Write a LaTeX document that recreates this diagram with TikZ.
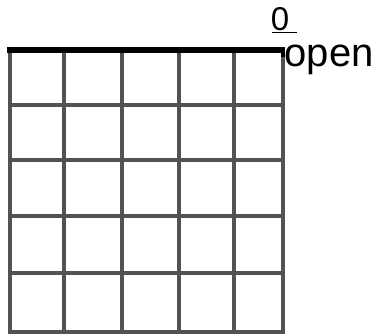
\documentclass[tikz,border=0pt]{standalone}
\usepackage{fontspec}
\setmainfont{Liberation Sans}
\begin{document}
\begin{tikzpicture}[x=1pt,y=-1pt,
  gridline/.style={draw=black!68,line width=4.2pt},
  topline/.style={draw=black,line width=5.5pt},
  lbl/.style={inner sep=0pt,anchor=base west}]
\useasboundingbox (0,0) rectangle (376,336);
% verticals
\foreach \x in {10,64,122,179,234,283}
  \draw[gridline] (\x,52) -- (\x,334);
% horizontals
\foreach \y in {105,160,216,273,332}
  \draw[gridline] (8,\y) -- (285,\y);
% top edge
\draw[topline] (7,50) -- (285,50);
\draw[draw=black,line width=4pt] (283,48) -- (283,57);
% labels
\node[lbl,font=\fontsize{33}{33}\selectfont] (zero) at (270.6,31) {0};
\coordinate (ulA) at (272,32.5);
\coordinate (ulB) at (297,32.5);
\draw[line width=1.6pt] (ulA) -- (ulB);
\node[lbl,font=\fontsize{40}{40}\selectfont] (open) at (284.5,67) {open};
\end{tikzpicture}
\end{document}
